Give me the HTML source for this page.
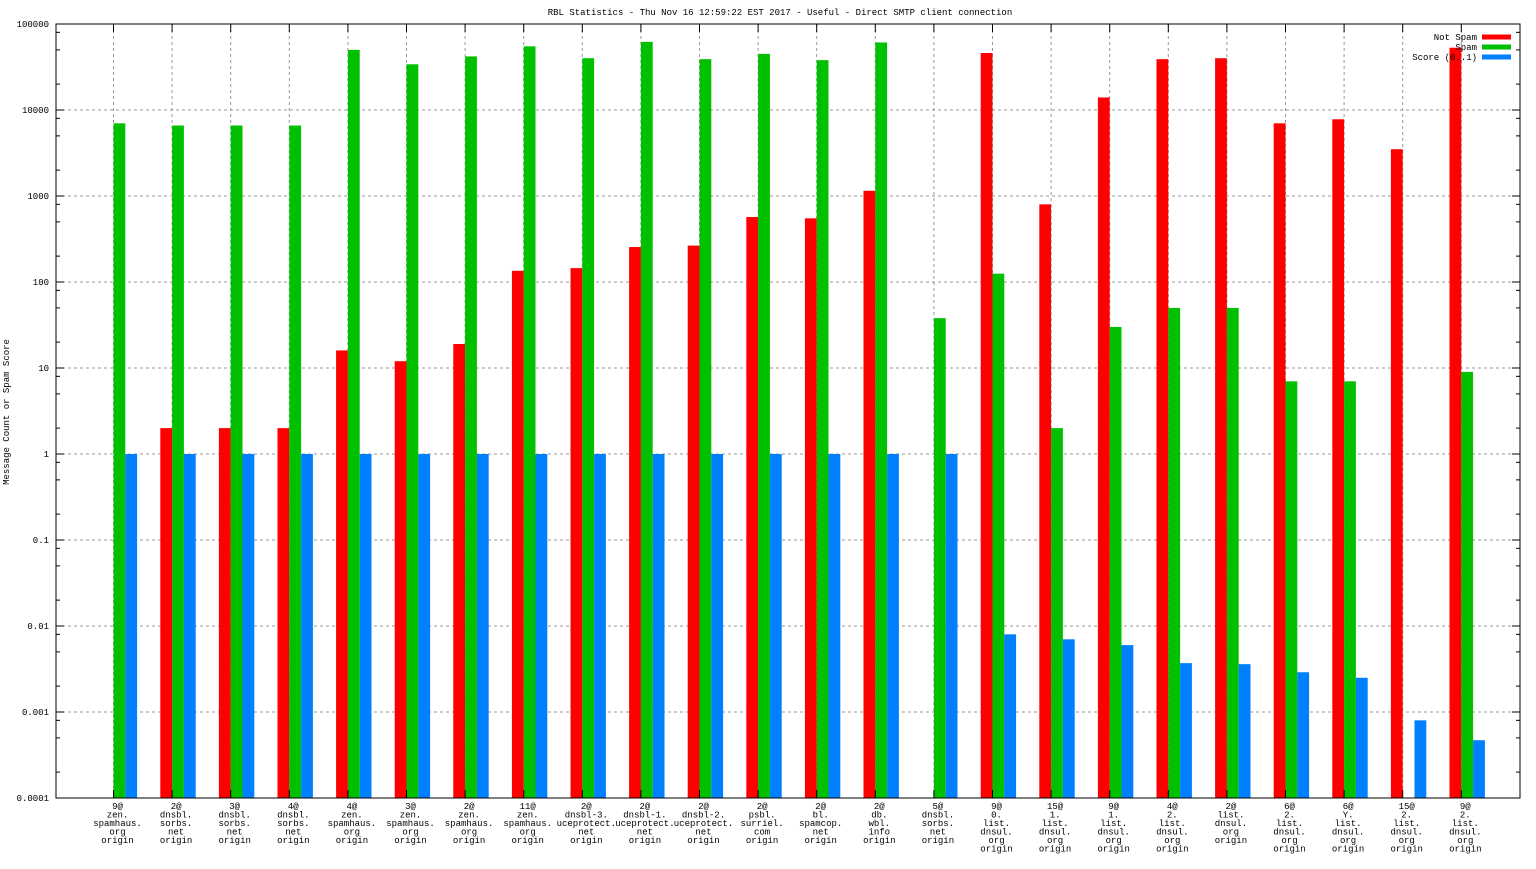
<!DOCTYPE html>
<html><head><meta charset="utf-8"><style>
body{margin:0;background:#fff}
svg text{font-family:"Liberation Mono",monospace;font-size:9px;fill:#000}
</style></head><body>
<svg id="chart" width="1536" height="864" xmlns="http://www.w3.org/2000/svg">
<rect width="1536" height="864" fill="#fff"/>
<text x="780" y="15" text-anchor="middle">RBL Statistics - Thu Nov 16 12:59:22 EST 2017 - Useful - Direct SMTP client connection</text>
<text transform="translate(9,412) rotate(-90)" text-anchor="middle">Message Count or Spam Score</text>
<g id="grid"></g><g id="bars"></g><g id="axes"></g>
</svg>
<script>
const categories=[
["9@","zen.","spamhaus.","org","origin"],["2@","dnsbl.","sorbs.","net","origin"],["3@","dnsbl.","sorbs.","net","origin"],["4@","dnsbl.","sorbs.","net","origin"],
["4@","zen.","spamhaus.","org","origin"],["3@","zen.","spamhaus.","org","origin"],["2@","zen.","spamhaus.","org","origin"],["11@","zen.","spamhaus.","org","origin"],
["2@","dnsbl-3.","uceprotect.","net","origin"],["2@","dnsbl-1.","uceprotect.","net","origin"],["2@","dnsbl-2.","uceprotect.","net","origin"],["2@","psbl.","surriel.","com","origin"],
["2@","bl.","spamcop.","net","origin"],["2@","db.","wbl.","info","origin"],["5@","dnsbl.","sorbs.","net","origin"],["9@","0.","list.","dnsul.","org","origin"],
["15@","1.","list.","dnsul.","org","origin"],["9@","1.","list.","dnsul.","org","origin"],["4@","2.","list.","dnsul.","org","origin"],["2@","list.","dnsul.","org","origin"],
["6@","2.","list.","dnsul.","org","origin"],["6@","Y.","list.","dnsul.","org","origin"],["15@","2.","list.","dnsul.","org","origin"],["9@","2.","list.","dnsul.","org","origin"]];
const notSpam=[null,2,2,2,16,12,19,135,145,255,265,570,550,1150,null,46000,800,14000,39000,40000,7000,7800,3500,53000];
const spam=[7000,6600,6600,6600,50000,34000,42000,55000,40000,62000,39000,45000,38000,61000,38,125,2,30,50,50,7,7,null,9];
const score=[1,1,1,1,1,1,1,1,1,1,1,1,1,1,1,0.008,0.007,0.006,0.0037,0.0036,0.0029,0.0025,0.0008,0.00047];
const yTicks=[100000,10000,1000,100,10,1,0.1,0.01,0.001,0.0001];
const yTickLabels=["100000","10000","1000","100","10","1","0.1","0.01","0.001","0.0001"];
const seriesNames=["Not Spam","Spam","Score (0..1)"];
const colors=["#ff0000","#00c000","#0080ff"];
const L=56,R=1520,T=24,B=798;
const y=v=>B-(Math.log10(v)+4)*(B-T)/9;
const gx=i=>113.5+58.6*i;
const NS="http://www.w3.org/2000/svg";
function mk(p,t,a){const e=document.createElementNS(NS,t);for(const k in a)e.setAttribute(k,a[k]);p.appendChild(e);return e;}
const grid=document.getElementById('grid'),bars=document.getElementById('bars'),axes=document.getElementById('axes');
yTicks.forEach((v,i)=>{
 const yy=y(v);
 if(i>0&&i<yTicks.length-1){const g=mk(grid,'line',{x1:L,x2:R,y1:yy,y2:yy,stroke:'#999','stroke-dasharray':'3,3'});
 
 }
 const t=mk(axes,'text',{x:L-7,y:yy+3,'text-anchor':'end'});t.textContent=yTickLabels[i];
 
 
 mk(axes,'line',{x1:L,x2:L+8,y1:yy,y2:yy,stroke:'#000'});mk(axes,'line',{x1:R,x2:R-8,y1:yy,y2:yy,stroke:'#000'});
 if(i>0)[2,5,8].forEach(m=>{const my=y(v*m);mk(axes,'line',{x1:L,x2:L+4,y1:my,y2:my,stroke:'#000'});mk(axes,'line',{x1:R,x2:R-4,y1:my,y2:my,stroke:'#000'});});
});
const series=[notSpam,spam,score];
categories.forEach((c,i)=>{
 const cx=gx(i);
 const g=mk(grid,'line',{x1:cx,x2:cx,y1:T,y2:B,stroke:'#999','stroke-dasharray':'3,3'});
 
 
 mk(axes,'line',{x1:cx,x2:cx,y1:B,y2:B-8,stroke:'#000'});mk(axes,'line',{x1:cx,x2:cx,y1:T,y2:T+8,stroke:'#000'});
 series.forEach((s,k)=>{
  const v=s[i];if(v==null)return;
  const x0=cx+(k-1)*11.8, yy=y(v);
  const r=mk(bars,'rect',{x:x0,y:yy,width:11.8,height:B-yy,fill:colors[k]});
  
  
 });
 const t=mk(axes,'text',{x:cx+4,'text-anchor':'middle'});
 
 
 c.forEach((ln,j)=>{const s=mk(t,'tspan',{x:cx+4,y:809+j*8.5});s.textContent=ln;});
});
mk(axes,'rect',{x:L,y:T,width:R-L,height:B-T,fill:'none',stroke:'#000'});
seriesNames.forEach((n,k)=>{
 const yy=37+k*10;
 const t=mk(axes,'text',{x:1477,y:yy+3,'text-anchor':'end'});t.textContent=n;
 
 
 const r=mk(axes,'rect',{x:1482,y:yy-2.5,width:29,height:5,fill:colors[k]});
 
 
});
</script>
</body></html>
